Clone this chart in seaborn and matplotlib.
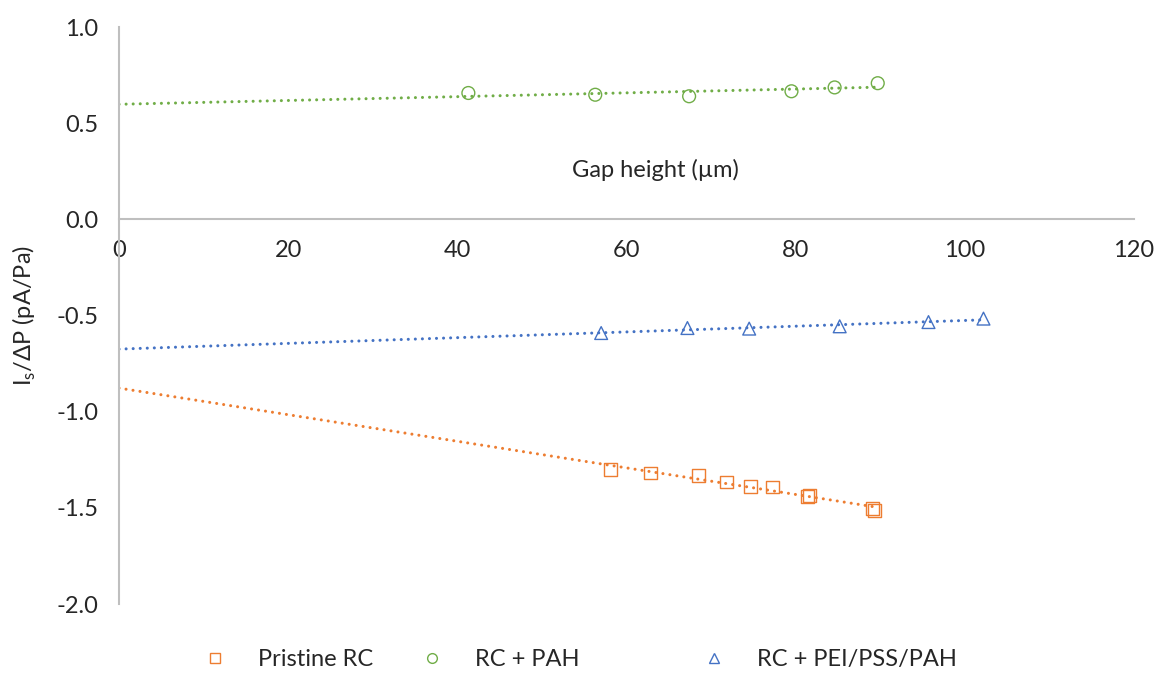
import numpy as np
import pandas as pd
import matplotlib
matplotlib.use("Agg")
import matplotlib.pyplot as plt
import seaborn as sns
from matplotlib.lines import Line2D

# --- data ---
pristine_x = [58.1, 62.8, 68.5, 71.8, 74.7, 77.3, 81.4, 81.6, 89.1, 89.3]
pristine_y = [-1.302, -1.319, -1.331, -1.366, -1.388, -1.392, -1.440, -1.435, -1.504, -1.513]

pah_x = [41.3, 56.3, 67.4, 79.5, 84.6, 89.7]
pah_y = [0.657, 0.648, 0.640, 0.666, 0.686, 0.708]

pei_x = [57.0, 67.2, 74.5, 85.2, 95.7, 102.2]
pei_y = [-0.591, -0.565, -0.568, -0.556, -0.534, -0.516]

labels = ["Pristine RC", "RC + PAH", "RC + PEI/PSS/PAH"]
colors = ["#ED7D31", "#70AD47", "#4472C4"]
markers = ["s", "o", "^"]

y_ticks = [-2.0, -1.5, -1.0, -0.5, 0.0, 0.5, 1.0]
x_ticks = [0, 20, 40, 60, 80, 100, 120]

sns.set_theme(style="white")
plt.rcParams["font.family"] = ["Lato", "DejaVu Sans"]
plt.rcParams["axes.unicode_minus"] = False

FS = 17
TXT = "#262626"

fig = plt.figure(figsize=(11.58, 6.86), dpi=100)
ax = fig.add_axes([0.1028, 0.1195, 0.8765, 0.8411])

series = [(pristine_x, pristine_y), (pah_x, pah_y), (pei_x, pei_y)]
for (xs, ys), lab, col, mk in zip(series, labels, colors, markers):
    # linear trendline, extended back to x = 0 like the Excel forecast
    slope, icpt = np.polyfit(xs, ys, 1)
    xl = np.array([0.0, max(xs)])
    ax.plot(xl, icpt + slope * xl, color=col, lw=2.2,
            linestyle=(0, (0.01, 2.3)), dash_capstyle="round", zorder=2)
    df = pd.DataFrame({"x": xs, "y": ys})
    sns.scatterplot(data=df, x="x", y="y", ax=ax, marker=mk, s=85,
                    color=col, facecolor="none", edgecolor=col,
                    linewidth=1.0, zorder=3, legend=False)

ax.set_xlim(0, 120)
ax.set_ylim(-2.0, 1.0)
ax.set_xticks(x_ticks)
ax.set_yticks(y_ticks)
ax.set_yticklabels([f"{v:.1f}" for v in y_ticks])

for s in ["top", "right"]:
    ax.spines[s].set_visible(False)
ax.spines["bottom"].set_position(("data", 0))
for s in ["left", "bottom"]:
    ax.spines[s].set_color("#BFBFBF")
    ax.spines[s].set_linewidth(1.5)

ax.tick_params(axis="both", colors="#BFBFBF", labelcolor=TXT,
               labelsize=FS, width=1.5)
ax.tick_params(axis="x", direction="out", length=7, pad=8)
ax.tick_params(axis="y", direction="out", length=8, pad=7)

ax.set_xlabel("Gap height (µm)", fontsize=FS, color=TXT)
ax.xaxis.set_label_coords(0.528, 0.752)
ax.xaxis.label.set_va("center")
ax.set_ylabel(r"I$_\mathregular{s}$/ΔP (pA/Pa)", fontsize=FS, color=TXT)
ax.yaxis.set_label_coords(-0.08, 0.5)

for lab, col, mk, xpos in zip(labels, colors, markers, [0.1468, 0.334, 0.578]):
    h = Line2D([], [], color=col, marker=mk, linestyle="none",
               markerfacecolor="none", markersize=7, markeredgewidth=1.0)
    fig.legend(handles=[h], labels=[lab], loc="center left",
               bbox_to_anchor=(xpos, 0.038), frameon=False, fontsize=FS,
               handletextpad=0.82, labelcolor=TXT)

fig.savefig("out.png", dpi=100)
